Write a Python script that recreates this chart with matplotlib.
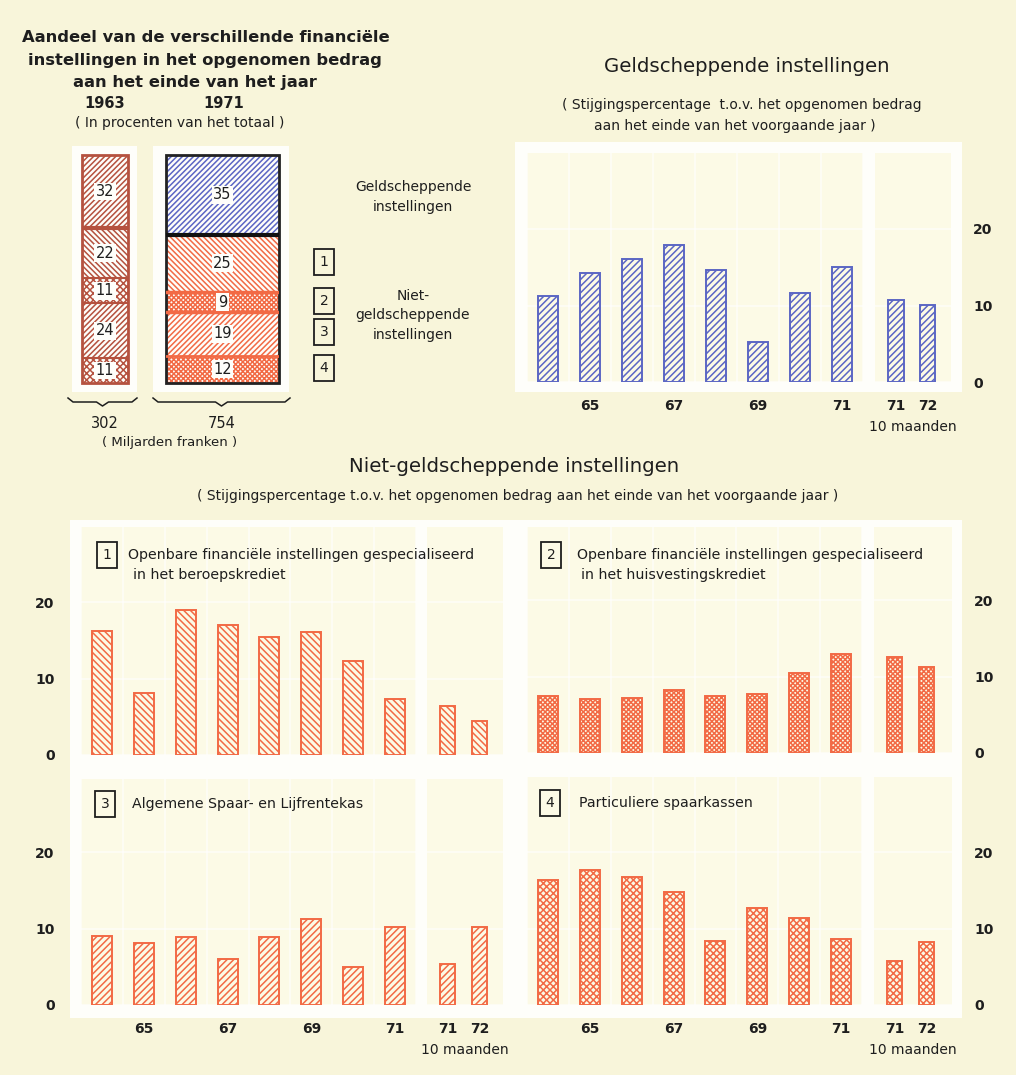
import matplotlib.pyplot as plt
from matplotlib.patches import Rectangle
from matplotlib.lines import Line2D
import numpy as np

W, H = 1016, 1075

# ---- data ----
jaren = ['64', '65', '66', '67', '68', '69', '70', '71']
jaar_labels = ['65', '67', '69', '71']
maanden_labels = ['71', '72']

geld = [11.2, 14.3, 16.1, 17.9, 14.7, 5.2, 11.6, 15.0]
geld_10m = [10.7, 10.1]

beroep = [16.2, 8.1, 19.0, 17.0, 15.4, 16.1, 12.3, 7.3]
beroep_10m = [6.4, 4.4]

huisvesting = [7.4, 7.0, 7.2, 8.2, 7.4, 7.7, 10.4, 12.9]
huisvesting_10m = [12.5, 11.2]

spaarkas = [9.0, 8.1, 8.9, 6.0, 8.9, 11.3, 5.0, 10.2]
spaarkas_10m = [5.3, 10.2]

particulier = [16.4, 17.6, 16.7, 14.8, 8.4, 12.7, 11.4, 8.6]
particulier_10m = [5.8, 8.3]

# shares, top to bottom: geldscheppend, 1, 2, 3, 4
aandeel_1963 = [32, 22, 11, 24, 11]
aandeel_1971 = [35, 25, 9, 19, 12]
totalen = ['302', '754']

BG = '#f8f5da'
FRAME = '#fefefa'
PANEL = '#fcfae6'
BLUE = '#5b66c4'
RED = '#f26a45'
BROWN = '#b5523f'
INK = '#1e1e1e'

plt.rcParams['font.family'] = ['DejaVu Sans']
plt.rcParams['hatch.linewidth'] = 1.1

fig = plt.figure(figsize=(W / 100, H / 100), dpi=100, facecolor=BG)


def rect(x0, y0, x1, y1):
    return [x0 / W, 1 - y1 / H, (x1 - x0) / W, (y1 - y0) / H]


def frame(x0, y0, x1, y1):
    fig.patches.append(Rectangle((x0 / W, 1 - y1 / H), (x1 - x0) / W, (y1 - y0) / H,
                                 transform=fig.transFigure, facecolor=FRAME,
                                 edgecolor='none', zorder=-1))


def ftext(x, y, s, **kw):
    kw.setdefault('color', INK)
    kw.setdefault('ha', 'center')
    kw.setdefault('va', 'center')
    return fig.text(x / W, 1 - y / H, s, **kw)


def nummer(x, y, s, size=10):
    ftext(x, y, s, fontsize=size,
          bbox=dict(boxstyle='square,pad=0.42', fc='none', ec=INK, lw=1.3))


def accolade(x0, x1, y):
    xm = (x0 + x1) / 2
    xs = np.array([x0, x0 + 5, xm - 6, xm, xm + 6, x1 - 5, x1])
    ys = np.array([y - 4, y, y, y + 4, y, y, y - 4])
    fig.lines.append(Line2D(xs / W, 1 - ys / H, transform=fig.transFigure,
                            color=INK, lw=1.1))


def staafpaneel(x0, x1, x2, x3, ytop, ybot, waarden, waarden_10m, kleur, hatch,
                links, xlabels):
    top = (ybot - ytop) / 7.65
    slot = (x1 - x0) / len(waarden)
    ax = fig.add_axes(rect(x0, ytop, x1, ybot), facecolor=PANEL)
    ax2 = fig.add_axes(rect(x2, ytop, x3, ybot), facecolor=PANEL)
    pos = np.arange(len(waarden))
    pos2 = np.array([0, 0.75])
    ax.bar(pos, waarden, width=0.48, facecolor=PANEL, edgecolor=kleur,
           hatch=hatch, linewidth=1.4, zorder=3)
    ax2.bar(pos2, waarden_10m, width=0.36, facecolor=PANEL, edgecolor=kleur,
            hatch=hatch, linewidth=1.4, zorder=3)
    ax.set_xlim(-0.5, len(waarden) - 0.5)
    ax2.set_xlim(-0.5, -0.5 + (x3 - x2) / slot)
    for a in (ax, ax2):
        a.set_ylim(0, top)
        for s in a.spines.values():
            s.set_visible(False)
        a.set_axisbelow(True)
        a.set_yticks([0, 10, 20])
        a.set_yticklabels([])
        a.tick_params(length=0, labelsize=10, colors=INK)
        a.grid(axis='y', color='white', lw=1.3, alpha=0.6)
        a.set_xticks([])
    ax.set_xticks(np.arange(-0.5, len(waarden), 1), minor=True)
    ax.tick_params(which='minor', length=0)
    ax.grid(which='minor', axis='x', color='white', lw=1.3, alpha=0.6)

    if links:
        ax.set_yticklabels(['0', '10', '20'], fontweight='bold')
        ax.tick_params(axis='y', pad=19)
    else:
        ax2.yaxis.tick_right()
        ax2.set_yticklabels(['0', '10', '20'], fontweight='bold')
        ax2.tick_params(axis='y', pad=16)

    if xlabels:
        idx = [jaren.index(j) for j in jaar_labels]
        ax.set_xticks(idx, jaar_labels, fontweight='bold')
        ax2.set_xticks(pos2, maanden_labels, fontweight='bold')
        ax.tick_params(axis='x', pad=12)
        ax2.tick_params(axis='x', pad=12)
        ftext((x2 + x3) / 2, ybot + 45, '10 maanden', fontsize=10)
    return ax, ax2


# ---- white frames ----
frame(515, 142, 962, 392)
frame(70, 520, 962, 1018)
frame(72, 146, 137, 392)
frame(153, 146, 289, 392)

# ---- left: stacked shares ----
def stapel(pos, waarden, kleuren, hatches, scheiding, rand):
    ax = fig.add_axes(rect(*pos))
    ax.set_xlim(0, 1)
    ax.set_ylim(0, 100)
    ax.axis('off')
    bodem = 100 - np.cumsum(waarden)
    for v, b, k, h in zip(waarden, bodem, kleuren, hatches):
        ax.bar(0.5, v, bottom=b, width=1, facecolor=FRAME, edgecolor=k,
               hatch=h, linewidth=0)
        ax.text(0.5, b + v / 2, str(v), ha='center', va='center', fontsize=10.5,
                color=INK, bbox=dict(boxstyle='square,pad=0.1', fc=FRAME, ec='none'))
    for b, (k, lw) in zip(bodem[:-1], scheiding):
        ax.axhline(b, color=k, lw=lw)
    ax.bar(0.5, 100, width=1, fill=False, edgecolor=rand, linewidth=2, clip_on=False)


stapel((82, 155, 128, 383), aandeel_1963, [BROWN, BROWN, BROWN, BROWN, BROWN],
       ['//////', '\\\\\\\\\\\\', 'xxxxx', '//////', 'xxxxx'],
       [(BROWN, 3), (BROWN, 1.5), (BROWN, 1.5), (BROWN, 1.5)], BROWN)
stapel((166, 155, 279, 383), aandeel_1971, [BLUE, RED, RED, RED, RED],
       ['//////', '\\\\\\\\\\\\', 'xxxxxxx', '//////', 'xxxxxxx'],
       [('#111111', 3), (RED, 2.5), (RED, 2.5), (RED, 2)], '#222222')

ftext(206, 37, 'Aandeel van de verschillende financiële', fontsize=11.8, fontweight='bold')
ftext(205, 60, 'instellingen in het opgenomen bedrag', fontsize=11.8, fontweight='bold')
ftext(195, 83, 'aan het einde van het jaar', fontsize=11.8, fontweight='bold')
ftext(105, 104, '1963', fontsize=10.5, fontweight='bold')
ftext(224, 104, '1971', fontsize=10.5, fontweight='bold')
ftext(180, 123, '( In procenten van het totaal )', fontsize=10)

ftext(413, 197, 'Geldscheppende\ninstellingen', fontsize=10, linespacing=1.5)
ftext(413, 315, 'Niet-\ngeldscheppende\ninstellingen', fontsize=10, linespacing=1.5)
for i, y in enumerate([262, 301, 332, 368]):
    nummer(324, y, str(i + 1))

accolade(68, 137, 402)
accolade(153, 290, 402)
ftext(105, 423, totalen[0], fontsize=10.5)
ftext(222, 423, totalen[1], fontsize=10.5)
ftext(170, 442, '( Miljarden franken )', fontsize=9.5)

# ---- right: geldscheppende instellingen ----
ftext(747, 66, 'Geldscheppende instellingen', fontsize=14.2)
ftext(742, 105, '( Stijgingspercentage  t.o.v. het opgenomen bedrag', fontsize=10)
ftext(735, 126, 'aan het einde van het voorgaande jaar )', fontsize=10)
staafpaneel(527, 863, 875, 951, 153, 382, geld, geld_10m, BLUE, '/////',
            links=False, xlabels=True)

# ---- bottom: niet-geldscheppende instellingen ----
ftext(514, 466, 'Niet-geldscheppende instellingen', fontsize=14.2)
ftext(518, 496, '( Stijgingspercentage t.o.v. het opgenomen bedrag aan het einde '
      'van het voorgaande jaar )', fontsize=10)

staafpaneel(81, 416, 427, 503, 527, 755, beroep, beroep_10m, RED, '\\\\\\\\\\',
            links=True, xlabels=False)
staafpaneel(527, 862, 874, 952, 527, 753, huisvesting, huisvesting_10m, RED, 'xxxxxxx',
            links=False, xlabels=False)
staafpaneel(81, 416, 427, 503, 779, 1005, spaarkas, spaarkas_10m, RED, '/////',
            links=True, xlabels=True)
staafpaneel(527, 862, 874, 952, 777, 1005, particulier, particulier_10m, RED, 'xxxxx',
            links=False, xlabels=True)

nummer(107, 555, '1')
ftext(128, 555, 'Openbare financiële instellingen gespecialiseerd', fontsize=10.2, ha='left')
ftext(133, 575, 'in het beroepskrediet', fontsize=10.2, ha='left')
nummer(551, 555, '2')
ftext(577, 555, 'Openbare financiële instellingen gespecialiseerd', fontsize=10.2, ha='left')
ftext(581, 575, 'in het huisvestingskrediet', fontsize=10.2, ha='left')
nummer(105, 804, '3')
ftext(132, 804, 'Algemene Spaar- en Lijfrentekas', fontsize=10.2, ha='left')
nummer(550, 803, '4')
ftext(579, 803, 'Particuliere spaarkassen', fontsize=10.2, ha='left')

fig.savefig('out.png', dpi=100, facecolor=BG)
